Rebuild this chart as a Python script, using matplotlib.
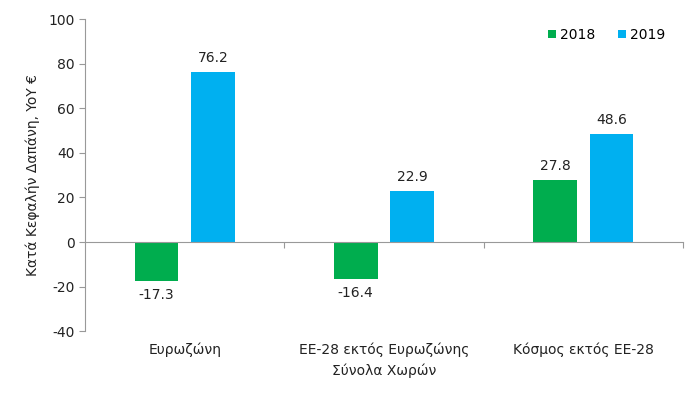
import numpy as np
import matplotlib.pyplot as plt
from matplotlib.transforms import blended_transform_factory

plt.rcParams['font.family'] = ['DejaVu Sans']
plt.rcParams['axes.unicode_minus'] = False

categories = ['Ευρωζώνη', 'ΕΕ-28 εκτός Ευρωζώνης\nΣύνολα Χωρών', 'Κόσμος εκτός ΕΕ-28']
vals_2018 = [-17.3, -16.4, 27.8]
vals_2019 = [76.2, 22.9, 48.6]
years = ['2018', '2019']
colors = ['#00AD4E', '#00B0F0']

fig = plt.figure(figsize=(6.87, 3.99), dpi=100)
ax = fig.add_axes([0.124, 0.170, 0.870, 0.782])

x = np.arange(len(categories))
w = 0.22
b1 = ax.bar(x - 0.142, vals_2018, w, color=colors[0], label=years[0])
b2 = ax.bar(x + 0.142, vals_2019, w, color=colors[1], label=years[1])

for bars in (b1, b2):
    for r in bars:
        v = r.get_height()
        off = 5 if v >= 0 else -5
        ax.annotate(f'{v:.1f}', (r.get_x() + r.get_width() / 2, v),
                    xytext=(0, off), textcoords='offset points',
                    ha='center', va='bottom' if v >= 0 else 'top',
                    fontsize=10, color='#222222')

ax.set_xlim(-0.5, 2.5)
ax.set_ylim(-40, 100)
ax.set_yticks(np.arange(-40, 101, 20))
ax.tick_params(axis='y', labelsize=10, length=4, color='#999999', labelcolor='#222222')

for s in ['top', 'right']:
    ax.spines[s].set_visible(False)
ax.spines['left'].set_color('#999999')
ax.spines['bottom'].set_position(('data', 0))
ax.spines['bottom'].set_color('#999999')
ax.set_xticks([0.5, 1.5, 2.5])
ax.set_xticklabels([])
ax.tick_params(axis='x', length=4, color='#999999', direction='out')

trans = blended_transform_factory(ax.transData, ax.transAxes)
for i, c in enumerate(categories):
    ax.text(i, -0.035, c, transform=trans, ha='center', va='top',
            fontsize=10, color='#222222', linespacing=1.6)

ax.set_ylabel('Κατά Κεφαλήν Δαπάνη, YoY €', fontsize=10, color='#222222', labelpad=6)

ax.legend(loc='upper right', bbox_to_anchor=(0.992, 1.012), ncol=2, frameon=False,
          fontsize=10, handlelength=0.6, handleheight=0.6, handletextpad=0.3,
          columnspacing=1.6)

fig.savefig('out.png', dpi=100)
